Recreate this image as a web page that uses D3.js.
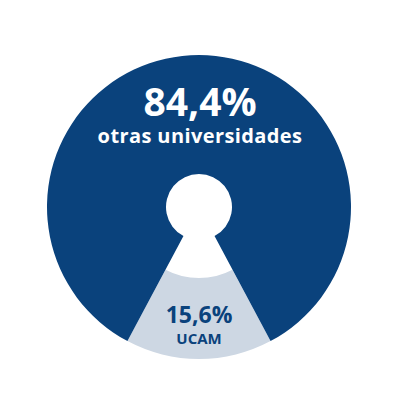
<!DOCTYPE html>
<html>
<head>
<meta charset="utf-8">
<script src="https://cdn.jsdelivr.net/npm/d3@7"></script>
<style>
  body { margin: 0; background: #fff; }
  svg { display: block; font-family: 'Open Sans', sans-serif; }
</style>
</head>
<body>
<svg width="398" height="413"></svg>
<script>
'use strict'

const categories = ['UCAM', 'otras universidades']
const values = [15.6, 84.4]
const labels = ['15,6%', '84,4%']

const svg = d3.select('svg')
const cx = 199
const cy = 207
const outer = 152

const color = d3.scaleOrdinal().domain(categories).range(['#cdd7e3', '#0a427c'])
const inner = d3.scaleOrdinal().domain(categories).range([71, 33])

// the UCAM slice sits centred at the bottom
const share = values[0] / d3.sum(values)
const start = Math.PI - share * Math.PI

const pie = d3.pie().sort(null).value(d => d.value)
    .startAngle(start).endAngle(start + 2 * Math.PI)

const data = categories.map((c, i) => ({ name: c, value: values[i], label: labels[i] }))
const arcs = pie(data)

const g = svg.append('g').attr('transform', `translate(${cx},${cy})`)

g.selectAll('path')
    .data(arcs)
    .enter()
    .append('path')
    .attr('fill', d => color(d.data.name))
    .attr('d', d => d3.arc().innerRadius(inner(d.data.name)).outerRadius(outer)(d))

// big label up top
g.append('text')
    .attr('text-anchor', 'middle')
    .attr('x', 1)
    .attr('y', 116 - cy)
    .attr('fill', '#fff')
    .attr('font-weight', 700)
    .attr('font-size', 39)
    .text(labels[1])

g.append('text')
    .attr('text-anchor', 'middle')
    .attr('x', 1)
    .attr('y', 143 - cy)
    .attr('fill', '#fff')
    .attr('font-weight', 700)
    .attr('font-size', 20)
    .attr('letter-spacing', 0.4)
    .text(categories[1])

g.append('text')
    .attr('text-anchor', 'middle')
    .attr('x', 0)
    .attr('y', 323 - cy)
    .attr('fill', '#0a427c')
    .attr('font-weight', 700)
    .attr('font-size', 23)
    .text(labels[0])

g.append('text')
    .attr('text-anchor', 'middle')
    .attr('x', 0)
    .attr('y', 344 - cy)
    .attr('fill', '#0a427c')
    .attr('font-weight', 700)
    .attr('font-size', 15)
    .text(categories[0])
</script>
</body>
</html>
